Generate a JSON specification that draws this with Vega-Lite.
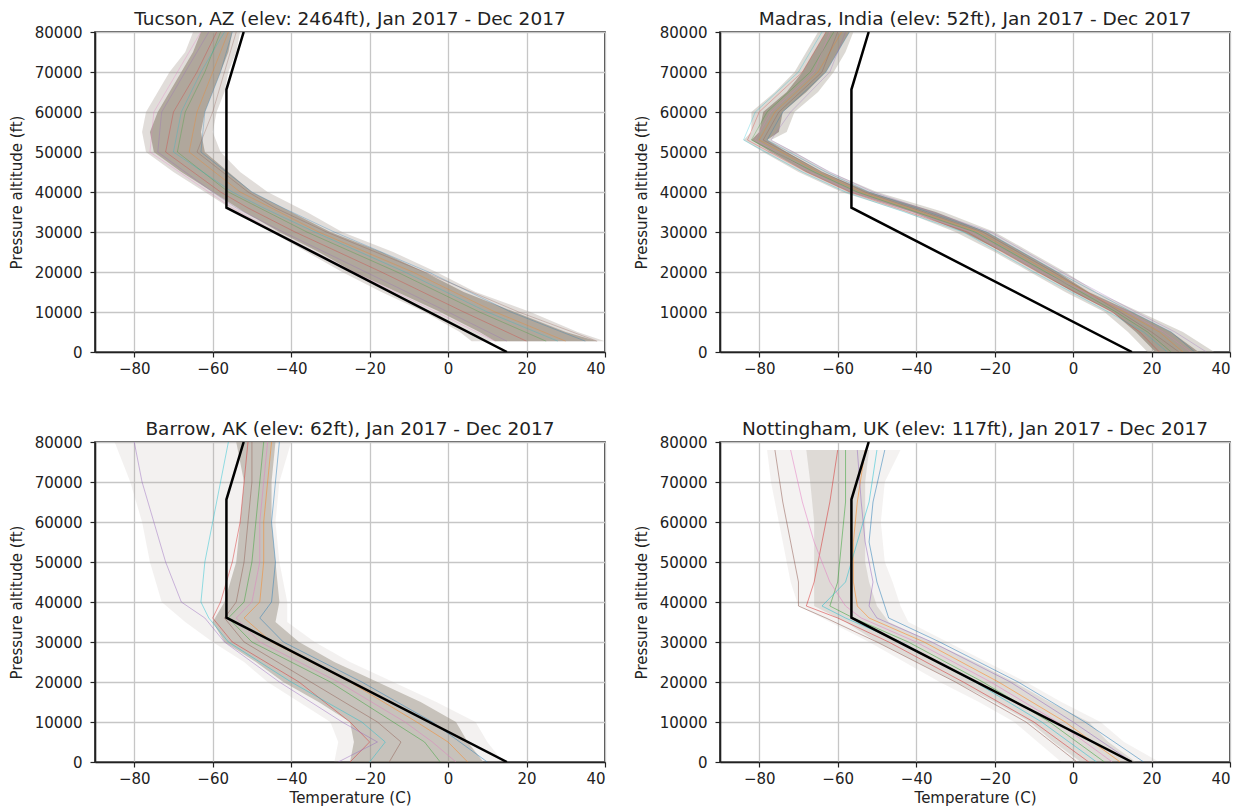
{
  "$schema": "https://vega.github.io/schema/vega-lite/v6.json",
  "background": "white",
  "padding": {"left": 8, "top": 8, "right": 10, "bottom": 4},
  "config": {
    "font": "DejaVu Sans",
    "view": {"stroke": "#222222", "strokeWidth": 1.6},
    "axis": {
      "labelFont": "DejaVu Sans", "labelFontSize": 15, "labelColor": "#222222", "labelOverlap": false,
      "titleFont": "DejaVu Sans", "titleFontSize": 15, "titleFontWeight": "normal", "titleColor": "#222222",
      "gridColor": "#c6c6c6", "gridWidth": 1.3,
      "tickColor": "#222222", "tickSize": 5, "tickWidth": 1.2,
      "domainColor": "#222222", "domainWidth": 1.6, "labelPadding": 4
    },
    "axisY": {"labelPadding": 8, "titlePadding": 10},
    "axisX": {"titlePadding": 4},
    "title": {"font": "DejaVu Sans", "fontSize": 18.5, "fontWeight": "normal", "color": "#222222", "offset": -3}
  },
  "datasets": {
    "isa": [
      {"alt": 0, "temp": 15}, {"alt": 36089, "temp": -56.5}, {"alt": 65617, "temp": -56.5}, {"alt": 80000, "temp": -52.1}
    ],
    "tucson_band": [
      {"alt": 2700, "outer_lo": 6, "outer_hi": 40, "inner_lo": 12, "inner_hi": 38},
      {"alt": 5000, "outer_lo": 3, "outer_hi": 33, "inner_lo": 8, "inner_hi": 30},
      {"alt": 10000, "outer_lo": -6, "outer_hi": 21, "inner_lo": -2, "inner_hi": 17},
      {"alt": 15000, "outer_lo": -17, "outer_hi": 7, "inner_lo": -13, "inner_hi": 4},
      {"alt": 20000, "outer_lo": -27, "outer_hi": -3, "inner_lo": -24, "inner_hi": -6},
      {"alt": 25000, "outer_lo": -36, "outer_hi": -14, "inner_lo": -33, "inner_hi": -17},
      {"alt": 30000, "outer_lo": -45, "outer_hi": -27, "inner_lo": -43, "inner_hi": -30},
      {"alt": 35000, "outer_lo": -54, "outer_hi": -36, "inner_lo": -52, "inner_hi": -40},
      {"alt": 40000, "outer_lo": -62, "outer_hi": -46, "inner_lo": -60, "inner_hi": -50},
      {"alt": 45000, "outer_lo": -70, "outer_hi": -53, "inner_lo": -68, "inner_hi": -56},
      {"alt": 50000, "outer_lo": -77, "outer_hi": -58, "inner_lo": -75, "inner_hi": -62},
      {"alt": 55000, "outer_lo": -78, "outer_hi": -60, "inner_lo": -76, "inner_hi": -63},
      {"alt": 60000, "outer_lo": -77, "outer_hi": -59, "inner_lo": -74, "inner_hi": -62},
      {"alt": 65000, "outer_lo": -74, "outer_hi": -57, "inner_lo": -71, "inner_hi": -60},
      {"alt": 70000, "outer_lo": -71, "outer_hi": -56, "inner_lo": -68, "inner_hi": -58},
      {"alt": 75000, "outer_lo": -67, "outer_hi": -54, "inner_lo": -65, "inner_hi": -56},
      {"alt": 80000, "outer_lo": -65, "outer_hi": -53, "inner_lo": -63, "inner_hi": -55}
    ],
    "tucson_lines": [
      {"id": 1, "alt": 2700, "temp": 35}, {"id": 1, "alt": 10000, "temp": 16}, {"id": 1, "alt": 20000, "temp": -5}, {"id": 1, "alt": 30000, "temp": -29}, {"id": 1, "alt": 36000, "temp": -42}, {"id": 1, "alt": 40000, "temp": -50}, {"id": 1, "alt": 50000, "temp": -63}, {"id": 1, "alt": 60000, "temp": -62}, {"id": 1, "alt": 70000, "temp": -58}, {"id": 1, "alt": 80000, "temp": -55},
      {"id": 2, "alt": 2700, "temp": 30}, {"id": 2, "alt": 10000, "temp": 12}, {"id": 2, "alt": 20000, "temp": -9}, {"id": 2, "alt": 30000, "temp": -33}, {"id": 2, "alt": 36000, "temp": -45}, {"id": 2, "alt": 40000, "temp": -53}, {"id": 2, "alt": 50000, "temp": -66}, {"id": 2, "alt": 60000, "temp": -64}, {"id": 2, "alt": 70000, "temp": -60}, {"id": 2, "alt": 80000, "temp": -56},
      {"id": 3, "alt": 2700, "temp": 25}, {"id": 3, "alt": 10000, "temp": 8}, {"id": 3, "alt": 20000, "temp": -13}, {"id": 3, "alt": 30000, "temp": -36}, {"id": 3, "alt": 36000, "temp": -48}, {"id": 3, "alt": 40000, "temp": -56}, {"id": 3, "alt": 50000, "temp": -69}, {"id": 3, "alt": 60000, "temp": -67}, {"id": 3, "alt": 70000, "temp": -62}, {"id": 3, "alt": 80000, "temp": -58},
      {"id": 4, "alt": 2700, "temp": 20}, {"id": 4, "alt": 10000, "temp": 4}, {"id": 4, "alt": 20000, "temp": -17}, {"id": 4, "alt": 30000, "temp": -39}, {"id": 4, "alt": 36000, "temp": -51}, {"id": 4, "alt": 40000, "temp": -58}, {"id": 4, "alt": 50000, "temp": -72}, {"id": 4, "alt": 60000, "temp": -70}, {"id": 4, "alt": 70000, "temp": -64}, {"id": 4, "alt": 80000, "temp": -59},
      {"id": 5, "alt": 2700, "temp": 15}, {"id": 5, "alt": 10000, "temp": 0}, {"id": 5, "alt": 20000, "temp": -21}, {"id": 5, "alt": 30000, "temp": -42}, {"id": 5, "alt": 36000, "temp": -54}, {"id": 5, "alt": 40000, "temp": -60}, {"id": 5, "alt": 50000, "temp": -74}, {"id": 5, "alt": 60000, "temp": -73}, {"id": 5, "alt": 70000, "temp": -67}, {"id": 5, "alt": 80000, "temp": -61},
      {"id": 6, "alt": 2700, "temp": 38}, {"id": 6, "alt": 10000, "temp": 18}, {"id": 6, "alt": 20000, "temp": -6}, {"id": 6, "alt": 30000, "temp": -31}, {"id": 6, "alt": 36000, "temp": -44}, {"id": 6, "alt": 40000, "temp": -51}, {"id": 6, "alt": 50000, "temp": -64}, {"id": 6, "alt": 60000, "temp": -60}, {"id": 6, "alt": 70000, "temp": -57}, {"id": 6, "alt": 80000, "temp": -54},
      {"id": 7, "alt": 2700, "temp": 12}, {"id": 7, "alt": 10000, "temp": -3}, {"id": 7, "alt": 20000, "temp": -24}, {"id": 7, "alt": 30000, "temp": -44}, {"id": 7, "alt": 36000, "temp": -55}, {"id": 7, "alt": 40000, "temp": -61}, {"id": 7, "alt": 50000, "temp": -76}, {"id": 7, "alt": 60000, "temp": -75}, {"id": 7, "alt": 70000, "temp": -69}, {"id": 7, "alt": 80000, "temp": -63},
      {"id": 8, "alt": 2700, "temp": 28}, {"id": 8, "alt": 10000, "temp": 10}, {"id": 8, "alt": 20000, "temp": -11}, {"id": 8, "alt": 30000, "temp": -34}, {"id": 8, "alt": 36000, "temp": -47}, {"id": 8, "alt": 40000, "temp": -55}, {"id": 8, "alt": 50000, "temp": -70}, {"id": 8, "alt": 60000, "temp": -68}, {"id": 8, "alt": 70000, "temp": -63}, {"id": 8, "alt": 80000, "temp": -57}
    ],
    "madras_band": [
      {"alt": 0, "outer_lo": 19, "outer_hi": 36, "inner_lo": 21, "inner_hi": 32},
      {"alt": 5000, "outer_lo": 14, "outer_hi": 28, "inner_lo": 16, "inner_hi": 25},
      {"alt": 10000, "outer_lo": 8, "outer_hi": 17, "inner_lo": 10, "inner_hi": 15},
      {"alt": 15000, "outer_lo": -2, "outer_hi": 6, "inner_lo": 0, "inner_hi": 4},
      {"alt": 20000, "outer_lo": -11, "outer_hi": -2, "inner_lo": -9, "inner_hi": -4},
      {"alt": 25000, "outer_lo": -20, "outer_hi": -11, "inner_lo": -18, "inner_hi": -13},
      {"alt": 30000, "outer_lo": -30, "outer_hi": -20, "inner_lo": -28, "inner_hi": -22},
      {"alt": 35000, "outer_lo": -43, "outer_hi": -33, "inner_lo": -41, "inner_hi": -35},
      {"alt": 40000, "outer_lo": -59, "outer_hi": -50, "inner_lo": -57, "inner_hi": -52},
      {"alt": 45000, "outer_lo": -70, "outer_hi": -62, "inner_lo": -68, "inner_hi": -64},
      {"alt": 50000, "outer_lo": -79, "outer_hi": -71, "inner_lo": -77, "inner_hi": -73},
      {"alt": 53000, "outer_lo": -84, "outer_hi": -77, "inner_lo": -82, "inner_hi": -78},
      {"alt": 55000, "outer_lo": -82, "outer_hi": -73, "inner_lo": -80, "inner_hi": -75},
      {"alt": 60000, "outer_lo": -82, "outer_hi": -71, "inner_lo": -79, "inner_hi": -74},
      {"alt": 65000, "outer_lo": -76, "outer_hi": -65, "inner_lo": -73, "inner_hi": -68},
      {"alt": 70000, "outer_lo": -71, "outer_hi": -61, "inner_lo": -69, "inner_hi": -63},
      {"alt": 75000, "outer_lo": -68, "outer_hi": -58, "inner_lo": -66, "inner_hi": -60},
      {"alt": 80000, "outer_lo": -65, "outer_hi": -56, "inner_lo": -63, "inner_hi": -57}
    ],
    "madras_lines": [
      {"id": 1, "alt": 0, "temp": 31}, {"id": 1, "alt": 5000, "temp": 25}, {"id": 1, "alt": 10000, "temp": 15}, {"id": 1, "alt": 20000, "temp": -4}, {"id": 1, "alt": 30000, "temp": -22}, {"id": 1, "alt": 40000, "temp": -52}, {"id": 1, "alt": 45000, "temp": -63}, {"id": 1, "alt": 53000, "temp": -78}, {"id": 1, "alt": 60000, "temp": -74}, {"id": 1, "alt": 70000, "temp": -63}, {"id": 1, "alt": 80000, "temp": -57},
      {"id": 2, "alt": 0, "temp": 28}, {"id": 2, "alt": 5000, "temp": 22}, {"id": 2, "alt": 10000, "temp": 13}, {"id": 2, "alt": 20000, "temp": -6}, {"id": 2, "alt": 30000, "temp": -24}, {"id": 2, "alt": 40000, "temp": -54}, {"id": 2, "alt": 45000, "temp": -65}, {"id": 2, "alt": 53000, "temp": -80}, {"id": 2, "alt": 60000, "temp": -76}, {"id": 2, "alt": 70000, "temp": -65}, {"id": 2, "alt": 80000, "temp": -59},
      {"id": 3, "alt": 0, "temp": 25}, {"id": 3, "alt": 5000, "temp": 19}, {"id": 3, "alt": 10000, "temp": 11}, {"id": 3, "alt": 20000, "temp": -7}, {"id": 3, "alt": 30000, "temp": -25}, {"id": 3, "alt": 40000, "temp": -55}, {"id": 3, "alt": 45000, "temp": -66}, {"id": 3, "alt": 53000, "temp": -82}, {"id": 3, "alt": 60000, "temp": -78}, {"id": 3, "alt": 70000, "temp": -67}, {"id": 3, "alt": 80000, "temp": -61},
      {"id": 4, "alt": 0, "temp": 22}, {"id": 4, "alt": 5000, "temp": 17}, {"id": 4, "alt": 10000, "temp": 10}, {"id": 4, "alt": 20000, "temp": -9}, {"id": 4, "alt": 30000, "temp": -27}, {"id": 4, "alt": 40000, "temp": -57}, {"id": 4, "alt": 45000, "temp": -68}, {"id": 4, "alt": 53000, "temp": -83}, {"id": 4, "alt": 60000, "temp": -80}, {"id": 4, "alt": 70000, "temp": -69}, {"id": 4, "alt": 80000, "temp": -63},
      {"id": 5, "alt": 0, "temp": 34}, {"id": 5, "alt": 5000, "temp": 26}, {"id": 5, "alt": 10000, "temp": 16}, {"id": 5, "alt": 20000, "temp": -3}, {"id": 5, "alt": 30000, "temp": -21}, {"id": 5, "alt": 40000, "temp": -51}, {"id": 5, "alt": 45000, "temp": -62}, {"id": 5, "alt": 53000, "temp": -77}, {"id": 5, "alt": 60000, "temp": -72}, {"id": 5, "alt": 70000, "temp": -62}, {"id": 5, "alt": 80000, "temp": -58},
      {"id": 6, "alt": 0, "temp": 27}, {"id": 6, "alt": 5000, "temp": 20}, {"id": 6, "alt": 10000, "temp": 12}, {"id": 6, "alt": 20000, "temp": -5}, {"id": 6, "alt": 30000, "temp": -23}, {"id": 6, "alt": 40000, "temp": -53}, {"id": 6, "alt": 45000, "temp": -64}, {"id": 6, "alt": 53000, "temp": -79}, {"id": 6, "alt": 60000, "temp": -75}, {"id": 6, "alt": 70000, "temp": -64}, {"id": 6, "alt": 80000, "temp": -60},
      {"id": 7, "alt": 0, "temp": 30}, {"id": 7, "alt": 5000, "temp": 23}, {"id": 7, "alt": 10000, "temp": 14}, {"id": 7, "alt": 20000, "temp": -8}, {"id": 7, "alt": 30000, "temp": -26}, {"id": 7, "alt": 40000, "temp": -56}, {"id": 7, "alt": 45000, "temp": -67}, {"id": 7, "alt": 53000, "temp": -81}, {"id": 7, "alt": 60000, "temp": -77}, {"id": 7, "alt": 70000, "temp": -66}, {"id": 7, "alt": 80000, "temp": -62},
      {"id": 8, "alt": 0, "temp": 24}, {"id": 8, "alt": 5000, "temp": 18}, {"id": 8, "alt": 10000, "temp": 9}, {"id": 8, "alt": 20000, "temp": -10}, {"id": 8, "alt": 30000, "temp": -28}, {"id": 8, "alt": 40000, "temp": -58}, {"id": 8, "alt": 45000, "temp": -69}, {"id": 8, "alt": 53000, "temp": -84}, {"id": 8, "alt": 60000, "temp": -81}, {"id": 8, "alt": 70000, "temp": -70}, {"id": 8, "alt": 80000, "temp": -64}
    ],
    "barrow_band": [
      {"alt": 0, "outer_lo": -29, "outer_hi": 14, "inner_lo": -25, "inner_hi": 9},
      {"alt": 5000, "outer_lo": -28, "outer_hi": 10, "inner_lo": -24, "inner_hi": 5},
      {"alt": 10000, "outer_lo": -30, "outer_hi": 7, "inner_lo": -25, "inner_hi": 2},
      {"alt": 15000, "outer_lo": -38, "outer_hi": -3, "inner_lo": -33, "inner_hi": -7},
      {"alt": 20000, "outer_lo": -46, "outer_hi": -14, "inner_lo": -42, "inner_hi": -18},
      {"alt": 25000, "outer_lo": -52, "outer_hi": -25, "inner_lo": -49, "inner_hi": -29},
      {"alt": 30000, "outer_lo": -60, "outer_hi": -34, "inner_lo": -57, "inner_hi": -38},
      {"alt": 35000, "outer_lo": -67, "outer_hi": -41, "inner_lo": -60, "inner_hi": -44},
      {"alt": 40000, "outer_lo": -73, "outer_hi": -41, "inner_lo": -57, "inner_hi": -43},
      {"alt": 50000, "outer_lo": -76, "outer_hi": -43, "inner_lo": -54, "inner_hi": -44},
      {"alt": 60000, "outer_lo": -78, "outer_hi": -44, "inner_lo": -53, "inner_hi": -45},
      {"alt": 70000, "outer_lo": -81, "outer_hi": -43, "inner_lo": -52, "inner_hi": -45},
      {"alt": 80000, "outer_lo": -85, "outer_hi": -40, "inner_lo": -54, "inner_hi": -44}
    ],
    "barrow_lines": [
      {"id": 1, "alt": 0, "temp": 10}, {"id": 1, "alt": 5000, "temp": 3}, {"id": 1, "alt": 10000, "temp": -4}, {"id": 1, "alt": 20000, "temp": -22}, {"id": 1, "alt": 30000, "temp": -42}, {"id": 1, "alt": 36000, "temp": -48}, {"id": 1, "alt": 40000, "temp": -45}, {"id": 1, "alt": 50000, "temp": -44}, {"id": 1, "alt": 60000, "temp": -45}, {"id": 1, "alt": 70000, "temp": -44}, {"id": 1, "alt": 80000, "temp": -43},
      {"id": 2, "alt": 0, "temp": 5}, {"id": 2, "alt": 5000, "temp": 0}, {"id": 2, "alt": 10000, "temp": -8}, {"id": 2, "alt": 20000, "temp": -25}, {"id": 2, "alt": 30000, "temp": -45}, {"id": 2, "alt": 36000, "temp": -52}, {"id": 2, "alt": 40000, "temp": -48}, {"id": 2, "alt": 50000, "temp": -47}, {"id": 2, "alt": 60000, "temp": -47}, {"id": 2, "alt": 70000, "temp": -46}, {"id": 2, "alt": 80000, "temp": -45},
      {"id": 3, "alt": 0, "temp": -2}, {"id": 3, "alt": 5000, "temp": -6}, {"id": 3, "alt": 10000, "temp": -14}, {"id": 3, "alt": 20000, "temp": -30}, {"id": 3, "alt": 30000, "temp": -50}, {"id": 3, "alt": 36000, "temp": -56}, {"id": 3, "alt": 40000, "temp": -52}, {"id": 3, "alt": 50000, "temp": -50}, {"id": 3, "alt": 60000, "temp": -49}, {"id": 3, "alt": 70000, "temp": -48}, {"id": 3, "alt": 80000, "temp": -47},
      {"id": 4, "alt": 0, "temp": -25}, {"id": 4, "alt": 5000, "temp": -20}, {"id": 4, "alt": 10000, "temp": -25}, {"id": 4, "alt": 20000, "temp": -38}, {"id": 4, "alt": 30000, "temp": -55}, {"id": 4, "alt": 36000, "temp": -60}, {"id": 4, "alt": 40000, "temp": -58}, {"id": 4, "alt": 50000, "temp": -55}, {"id": 4, "alt": 60000, "temp": -53}, {"id": 4, "alt": 70000, "temp": -52}, {"id": 4, "alt": 80000, "temp": -51},
      {"id": 5, "alt": 0, "temp": -28}, {"id": 5, "alt": 5000, "temp": -18}, {"id": 5, "alt": 10000, "temp": -27}, {"id": 5, "alt": 20000, "temp": -43}, {"id": 5, "alt": 30000, "temp": -57}, {"id": 5, "alt": 36000, "temp": -62}, {"id": 5, "alt": 40000, "temp": -68}, {"id": 5, "alt": 50000, "temp": -72}, {"id": 5, "alt": 60000, "temp": -75}, {"id": 5, "alt": 70000, "temp": -78}, {"id": 5, "alt": 80000, "temp": -80},
      {"id": 6, "alt": 0, "temp": -15}, {"id": 6, "alt": 5000, "temp": -12}, {"id": 6, "alt": 10000, "temp": -18}, {"id": 6, "alt": 20000, "temp": -35}, {"id": 6, "alt": 30000, "temp": -52}, {"id": 6, "alt": 36000, "temp": -57}, {"id": 6, "alt": 40000, "temp": -54}, {"id": 6, "alt": 50000, "temp": -52}, {"id": 6, "alt": 60000, "temp": -51}, {"id": 6, "alt": 70000, "temp": -50}, {"id": 6, "alt": 80000, "temp": -50},
      {"id": 7, "alt": 0, "temp": 2}, {"id": 7, "alt": 5000, "temp": -4}, {"id": 7, "alt": 10000, "temp": -11}, {"id": 7, "alt": 20000, "temp": -28}, {"id": 7, "alt": 30000, "temp": -48}, {"id": 7, "alt": 36000, "temp": -54}, {"id": 7, "alt": 40000, "temp": -50}, {"id": 7, "alt": 50000, "temp": -48}, {"id": 7, "alt": 60000, "temp": -48}, {"id": 7, "alt": 70000, "temp": -47}, {"id": 7, "alt": 80000, "temp": -46},
      {"id": 8, "alt": 0, "temp": -20}, {"id": 8, "alt": 5000, "temp": -16}, {"id": 8, "alt": 10000, "temp": -22}, {"id": 8, "alt": 20000, "temp": -40}, {"id": 8, "alt": 30000, "temp": -56}, {"id": 8, "alt": 36000, "temp": -61}, {"id": 8, "alt": 40000, "temp": -63}, {"id": 8, "alt": 50000, "temp": -62}, {"id": 8, "alt": 60000, "temp": -60}, {"id": 8, "alt": 70000, "temp": -58}, {"id": 8, "alt": 80000, "temp": -56}
    ],
    "nottingham_band": [
      {"alt": 0, "outer_lo": -3, "outer_hi": 22, "inner_lo": 2, "inner_hi": 16},
      {"alt": 5000, "outer_lo": -9, "outer_hi": 13, "inner_lo": -5, "inner_hi": 9},
      {"alt": 10000, "outer_lo": -15, "outer_hi": 7, "inner_lo": -11, "inner_hi": 4},
      {"alt": 15000, "outer_lo": -24, "outer_hi": -3, "inner_lo": -20, "inner_hi": -6},
      {"alt": 20000, "outer_lo": -34, "outer_hi": -12, "inner_lo": -30, "inner_hi": -15},
      {"alt": 25000, "outer_lo": -43, "outer_hi": -22, "inner_lo": -40, "inner_hi": -25},
      {"alt": 30000, "outer_lo": -52, "outer_hi": -32, "inner_lo": -50, "inner_hi": -36},
      {"alt": 35000, "outer_lo": -62, "outer_hi": -42, "inner_lo": -58, "inner_hi": -47},
      {"alt": 39000, "outer_lo": -70, "outer_hi": -44, "inner_lo": -66, "inner_hi": -50},
      {"alt": 45000, "outer_lo": -72, "outer_hi": -46, "inner_lo": -66, "inner_hi": -52},
      {"alt": 50000, "outer_lo": -73, "outer_hi": -48, "inner_lo": -66, "inner_hi": -53},
      {"alt": 60000, "outer_lo": -75, "outer_hi": -49, "inner_lo": -66, "inner_hi": -53},
      {"alt": 70000, "outer_lo": -77, "outer_hi": -48, "inner_lo": -67, "inner_hi": -53},
      {"alt": 78000, "outer_lo": -78, "outer_hi": -44, "inner_lo": -68, "inner_hi": -52}
    ],
    "nottingham_lines": [
      {"id": 1, "alt": 0, "temp": 18}, {"id": 1, "alt": 10000, "temp": 3}, {"id": 1, "alt": 20000, "temp": -14}, {"id": 1, "alt": 30000, "temp": -34}, {"id": 1, "alt": 36000, "temp": -47}, {"id": 1, "alt": 39000, "temp": -48}, {"id": 1, "alt": 45000, "temp": -50}, {"id": 1, "alt": 55000, "temp": -52}, {"id": 1, "alt": 65000, "temp": -51}, {"id": 1, "alt": 78000, "temp": -48},
      {"id": 2, "alt": 0, "temp": 12}, {"id": 2, "alt": 10000, "temp": -2}, {"id": 2, "alt": 20000, "temp": -19}, {"id": 2, "alt": 30000, "temp": -38}, {"id": 2, "alt": 36000, "temp": -52}, {"id": 2, "alt": 39000, "temp": -55}, {"id": 2, "alt": 45000, "temp": -56}, {"id": 2, "alt": 55000, "temp": -56}, {"id": 2, "alt": 65000, "temp": -55}, {"id": 2, "alt": 78000, "temp": -53},
      {"id": 3, "alt": 0, "temp": 8}, {"id": 3, "alt": 10000, "temp": -6}, {"id": 3, "alt": 20000, "temp": -23}, {"id": 3, "alt": 30000, "temp": -42}, {"id": 3, "alt": 36000, "temp": -56}, {"id": 3, "alt": 39000, "temp": -62}, {"id": 3, "alt": 45000, "temp": -60}, {"id": 3, "alt": 55000, "temp": -59}, {"id": 3, "alt": 65000, "temp": -58}, {"id": 3, "alt": 78000, "temp": -58},
      {"id": 4, "alt": 0, "temp": 4}, {"id": 4, "alt": 10000, "temp": -10}, {"id": 4, "alt": 20000, "temp": -28}, {"id": 4, "alt": 30000, "temp": -47}, {"id": 4, "alt": 36000, "temp": -60}, {"id": 4, "alt": 39000, "temp": -68}, {"id": 4, "alt": 45000, "temp": -66}, {"id": 4, "alt": 55000, "temp": -64}, {"id": 4, "alt": 65000, "temp": -62}, {"id": 4, "alt": 78000, "temp": -60},
      {"id": 5, "alt": 0, "temp": 15}, {"id": 5, "alt": 10000, "temp": 0}, {"id": 5, "alt": 20000, "temp": -16}, {"id": 5, "alt": 30000, "temp": -36}, {"id": 5, "alt": 36000, "temp": -50}, {"id": 5, "alt": 39000, "temp": -52}, {"id": 5, "alt": 45000, "temp": -51}, {"id": 5, "alt": 55000, "temp": -53}, {"id": 5, "alt": 65000, "temp": -54}, {"id": 5, "alt": 78000, "temp": -55},
      {"id": 6, "alt": 0, "temp": 1}, {"id": 6, "alt": 10000, "temp": -12}, {"id": 6, "alt": 20000, "temp": -30}, {"id": 6, "alt": 30000, "temp": -50}, {"id": 6, "alt": 36000, "temp": -63}, {"id": 6, "alt": 39000, "temp": -70}, {"id": 6, "alt": 45000, "temp": -70}, {"id": 6, "alt": 55000, "temp": -72}, {"id": 6, "alt": 65000, "temp": -74}, {"id": 6, "alt": 78000, "temp": -76},
      {"id": 7, "alt": 0, "temp": 10}, {"id": 7, "alt": 10000, "temp": -4}, {"id": 7, "alt": 20000, "temp": -21}, {"id": 7, "alt": 30000, "temp": -40}, {"id": 7, "alt": 36000, "temp": -54}, {"id": 7, "alt": 39000, "temp": -58}, {"id": 7, "alt": 45000, "temp": -62}, {"id": 7, "alt": 55000, "temp": -66}, {"id": 7, "alt": 65000, "temp": -69}, {"id": 7, "alt": 78000, "temp": -72},
      {"id": 8, "alt": 0, "temp": 6}, {"id": 8, "alt": 10000, "temp": -8}, {"id": 8, "alt": 20000, "temp": -25}, {"id": 8, "alt": 30000, "temp": -44}, {"id": 8, "alt": 36000, "temp": -58}, {"id": 8, "alt": 39000, "temp": -64}, {"id": 8, "alt": 45000, "temp": -58}, {"id": 8, "alt": 55000, "temp": -55}, {"id": 8, "alt": 65000, "temp": -52}, {"id": 8, "alt": 78000, "temp": -50}
    ]
  },
  "columns": 2,
  "spacing": {"row": 90, "column": 115},
  "bounds": "flush",
  "concat": [
    {
      "title": "Tucson, AZ (elev: 2464ft), Jan 2017 - Dec 2017",
      "width": 510, "height": 320,
      "layer": [
        {"data": {"name": "tucson_band"}, "mark": {"type": "area", "orient": "horizontal", "color": "#a89f94", "opacity": 0.35, "clip": true},
         "encoding": {
           "y": {"field": "alt", "type": "quantitative", "title": "Pressure altitude (ft)", "scale": {"domain": [0, 80000], "nice": false, "zero": false}, "axis": {"values": [0, 10000, 20000, 30000, 40000, 50000, 60000, 70000, 80000], "format": "d"}},
           "x": {"field": "outer_lo", "type": "quantitative", "title": null, "scale": {"domain": [-90, 40], "nice": false, "zero": false}, "axis": {"values": [-80, -60, -40, -20, 0, 20, 40]}},
           "x2": {"field": "outer_hi"}}},
        {"data": {"name": "tucson_band"}, "mark": {"type": "area", "orient": "horizontal", "color": "#9c9284", "opacity": 0.72, "clip": true},
         "encoding": {"y": {"field": "alt", "type": "quantitative", "title": "Pressure altitude (ft)", "axis": {"values": [0, 10000, 20000, 30000, 40000, 50000, 60000, 70000, 80000], "format": "d"}}, "x": {"field": "inner_lo", "type": "quantitative", "title": null, "axis": {"values": [-80, -60, -40, -20, 0, 20, 40]}}, "x2": {"field": "inner_hi"}}},
        {"data": {"name": "tucson_lines"}, "mark": {"type": "line", "strokeWidth": 1, "opacity": 0.3, "clip": true},
         "encoding": {"y": {"field": "alt", "type": "quantitative", "title": "Pressure altitude (ft)", "axis": {"values": [0, 10000, 20000, 30000, 40000, 50000, 60000, 70000, 80000], "format": "d"}}, "x": {"field": "temp", "type": "quantitative", "title": null, "axis": {"values": [-80, -60, -40, -20, 0, 20, 40]}},
           "color": {"field": "id", "type": "nominal", "legend": null, "scale": {"range": ["#1f77b4", "#ff7f0e", "#2ca02c", "#d62728", "#9467bd", "#8c564b", "#e377c2", "#17becf"]}},
           "order": {"field": "alt", "type": "quantitative"}}},
        {"data": {"name": "isa"}, "mark": {"type": "line", "color": "#000000", "strokeWidth": 2.5, "clip": true},
         "encoding": {"y": {"field": "alt", "type": "quantitative", "title": "Pressure altitude (ft)", "axis": {"values": [0, 10000, 20000, 30000, 40000, 50000, 60000, 70000, 80000], "format": "d"}}, "x": {"field": "temp", "type": "quantitative", "title": null, "axis": {"values": [-80, -60, -40, -20, 0, 20, 40]}}, "order": {"field": "alt", "type": "quantitative"}}}
      ]
    },
    {
      "title": "Madras, India (elev: 52ft), Jan 2017 - Dec 2017",
      "width": 510, "height": 320,
      "layer": [
        {"data": {"name": "madras_band"}, "mark": {"type": "area", "orient": "horizontal", "color": "#a89f94", "opacity": 0.4, "clip": true},
         "encoding": {
           "y": {"field": "alt", "type": "quantitative", "title": "Pressure altitude (ft)", "scale": {"domain": [0, 80000], "nice": false, "zero": false}, "axis": {"values": [0, 10000, 20000, 30000, 40000, 50000, 60000, 70000, 80000], "format": "d"}},
           "x": {"field": "outer_lo", "type": "quantitative", "title": null, "scale": {"domain": [-90, 40], "nice": false, "zero": false}, "axis": {"values": [-80, -60, -40, -20, 0, 20, 40]}},
           "x2": {"field": "outer_hi"}}},
        {"data": {"name": "madras_band"}, "mark": {"type": "area", "orient": "horizontal", "color": "#978c7c", "opacity": 0.78, "clip": true},
         "encoding": {"y": {"field": "alt", "type": "quantitative", "title": "Pressure altitude (ft)", "axis": {"values": [0, 10000, 20000, 30000, 40000, 50000, 60000, 70000, 80000], "format": "d"}}, "x": {"field": "inner_lo", "type": "quantitative", "title": null, "axis": {"values": [-80, -60, -40, -20, 0, 20, 40]}}, "x2": {"field": "inner_hi"}}},
        {"data": {"name": "madras_lines"}, "mark": {"type": "line", "strokeWidth": 1, "opacity": 0.3, "clip": true},
         "encoding": {"y": {"field": "alt", "type": "quantitative", "title": "Pressure altitude (ft)", "axis": {"values": [0, 10000, 20000, 30000, 40000, 50000, 60000, 70000, 80000], "format": "d"}}, "x": {"field": "temp", "type": "quantitative", "title": null, "axis": {"values": [-80, -60, -40, -20, 0, 20, 40]}},
           "color": {"field": "id", "type": "nominal", "legend": null, "scale": {"range": ["#1f77b4", "#ff7f0e", "#2ca02c", "#d62728", "#9467bd", "#8c564b", "#e377c2", "#17becf"]}},
           "order": {"field": "alt", "type": "quantitative"}}},
        {"data": {"name": "isa"}, "mark": {"type": "line", "color": "#000000", "strokeWidth": 2.5, "clip": true},
         "encoding": {"y": {"field": "alt", "type": "quantitative", "title": "Pressure altitude (ft)", "axis": {"values": [0, 10000, 20000, 30000, 40000, 50000, 60000, 70000, 80000], "format": "d"}}, "x": {"field": "temp", "type": "quantitative", "title": null, "axis": {"values": [-80, -60, -40, -20, 0, 20, 40]}}, "order": {"field": "alt", "type": "quantitative"}}}
      ]
    },
    {
      "title": "Barrow, AK (elev: 62ft), Jan 2017 - Dec 2017",
      "width": 510, "height": 320,
      "layer": [
        {"data": {"name": "barrow_band"}, "mark": {"type": "area", "orient": "horizontal", "color": "#b3aba1", "opacity": 0.16, "clip": true},
         "encoding": {
           "y": {"field": "alt", "type": "quantitative", "title": "Pressure altitude (ft)", "scale": {"domain": [0, 80000], "nice": false, "zero": false}, "axis": {"values": [0, 10000, 20000, 30000, 40000, 50000, 60000, 70000, 80000], "format": "d"}},
           "x": {"field": "outer_lo", "type": "quantitative", "title": "Temperature (C)", "scale": {"domain": [-90, 40], "nice": false, "zero": false}, "axis": {"values": [-80, -60, -40, -20, 0, 20, 40]}},
           "x2": {"field": "outer_hi"}}},
        {"data": {"name": "barrow_band"}, "mark": {"type": "area", "orient": "horizontal", "color": "#9c9386", "opacity": 0.5, "clip": true},
         "encoding": {"y": {"field": "alt", "type": "quantitative", "title": "Pressure altitude (ft)", "axis": {"values": [0, 10000, 20000, 30000, 40000, 50000, 60000, 70000, 80000], "format": "d"}}, "x": {"field": "inner_lo", "type": "quantitative", "title": "Temperature (C)", "axis": {"values": [-80, -60, -40, -20, 0, 20, 40]}}, "x2": {"field": "inner_hi"}}},
        {"data": {"name": "barrow_lines"}, "mark": {"type": "line", "strokeWidth": 1, "opacity": 0.45, "clip": true},
         "encoding": {"y": {"field": "alt", "type": "quantitative", "title": "Pressure altitude (ft)", "axis": {"values": [0, 10000, 20000, 30000, 40000, 50000, 60000, 70000, 80000], "format": "d"}}, "x": {"field": "temp", "type": "quantitative", "title": "Temperature (C)", "axis": {"values": [-80, -60, -40, -20, 0, 20, 40]}},
           "color": {"field": "id", "type": "nominal", "legend": null, "scale": {"range": ["#1f77b4", "#ff7f0e", "#2ca02c", "#d62728", "#9467bd", "#8c564b", "#e377c2", "#17becf"]}},
           "order": {"field": "alt", "type": "quantitative"}}},
        {"data": {"name": "isa"}, "mark": {"type": "line", "color": "#000000", "strokeWidth": 2.5, "clip": true},
         "encoding": {"y": {"field": "alt", "type": "quantitative", "title": "Pressure altitude (ft)", "axis": {"values": [0, 10000, 20000, 30000, 40000, 50000, 60000, 70000, 80000], "format": "d"}}, "x": {"field": "temp", "type": "quantitative", "title": "Temperature (C)", "axis": {"values": [-80, -60, -40, -20, 0, 20, 40]}}, "order": {"field": "alt", "type": "quantitative"}}}
      ]
    },
    {
      "title": "Nottingham, UK (elev: 117ft), Jan 2017 - Dec 2017",
      "width": 510, "height": 320,
      "layer": [
        {"data": {"name": "nottingham_band"}, "mark": {"type": "area", "orient": "horizontal", "color": "#b3aba1", "opacity": 0.15, "clip": true},
         "encoding": {
           "y": {"field": "alt", "type": "quantitative", "title": "Pressure altitude (ft)", "scale": {"domain": [0, 80000], "nice": false, "zero": false}, "axis": {"values": [0, 10000, 20000, 30000, 40000, 50000, 60000, 70000, 80000], "format": "d"}},
           "x": {"field": "outer_lo", "type": "quantitative", "title": "Temperature (C)", "scale": {"domain": [-90, 40], "nice": false, "zero": false}, "axis": {"values": [-80, -60, -40, -20, 0, 20, 40]}},
           "x2": {"field": "outer_hi"}}},
        {"data": {"name": "nottingham_band"}, "mark": {"type": "area", "orient": "horizontal", "color": "#a0978a", "opacity": 0.26, "clip": true},
         "encoding": {"y": {"field": "alt", "type": "quantitative", "title": "Pressure altitude (ft)", "axis": {"values": [0, 10000, 20000, 30000, 40000, 50000, 60000, 70000, 80000], "format": "d"}}, "x": {"field": "inner_lo", "type": "quantitative", "title": "Temperature (C)", "axis": {"values": [-80, -60, -40, -20, 0, 20, 40]}}, "x2": {"field": "inner_hi"}}},
        {"data": {"name": "nottingham_lines"}, "mark": {"type": "line", "strokeWidth": 1, "opacity": 0.5, "clip": true},
         "encoding": {"y": {"field": "alt", "type": "quantitative", "title": "Pressure altitude (ft)", "axis": {"values": [0, 10000, 20000, 30000, 40000, 50000, 60000, 70000, 80000], "format": "d"}}, "x": {"field": "temp", "type": "quantitative", "title": "Temperature (C)", "axis": {"values": [-80, -60, -40, -20, 0, 20, 40]}},
           "color": {"field": "id", "type": "nominal", "legend": null, "scale": {"range": ["#1f77b4", "#ff7f0e", "#2ca02c", "#d62728", "#9467bd", "#8c564b", "#e377c2", "#17becf"]}},
           "order": {"field": "alt", "type": "quantitative"}}},
        {"data": {"name": "isa"}, "mark": {"type": "line", "color": "#000000", "strokeWidth": 2.5, "clip": true},
         "encoding": {"y": {"field": "alt", "type": "quantitative", "title": "Pressure altitude (ft)", "axis": {"values": [0, 10000, 20000, 30000, 40000, 50000, 60000, 70000, 80000], "format": "d"}}, "x": {"field": "temp", "type": "quantitative", "title": "Temperature (C)", "axis": {"values": [-80, -60, -40, -20, 0, 20, 40]}}, "order": {"field": "alt", "type": "quantitative"}}}
      ]
    }
  ]
}
